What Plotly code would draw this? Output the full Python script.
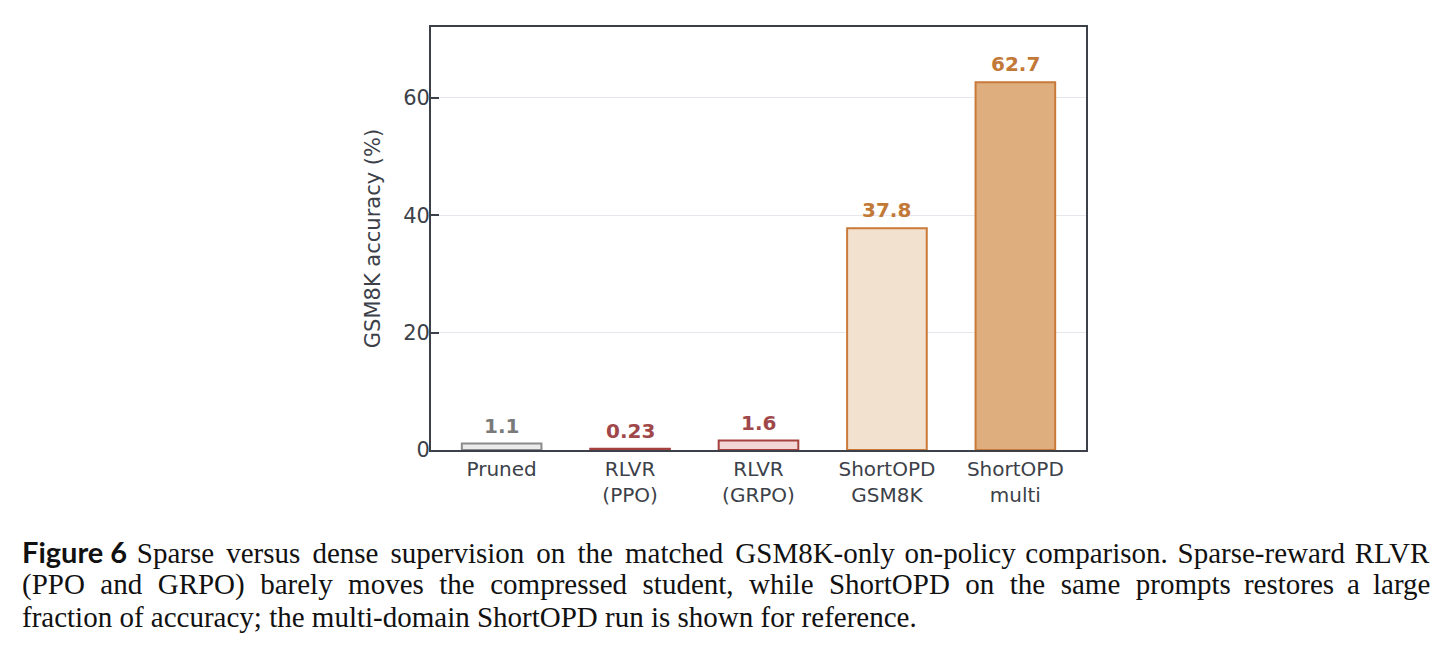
import plotly.graph_objects as go

categories = ["Pruned", "RLVR<br>(PPO)", "RLVR<br>(GRPO)", "ShortOPD<br>GSM8K", "ShortOPD<br>multi"]
values = [1.1, 0.23, 1.6, 37.8, 62.7]
value_labels = ["1.1", "0.23", "1.6", "37.8", "62.7"]
fill_colors = ["#ebebeb", "#f0d3d3", "#f2d6d6", "#f2e1cf", "#dfae7e"]
line_colors = ["#8c8c8c", "#a5423f", "#a5423f", "#c97a3a", "#c97a3a"]
label_colors = ["#7a7a7a", "#a0474a", "#a0474a", "#c27836", "#c27836"]
y_ticks = [0, 20, 40, 60]
y_title = "GSM8K accuracy (%)"
caption_words = [
    "Sparse versus dense supervision on the matched GSM8K-only on-policy comparison. Sparse-reward RLVR".split(" "),
    "(PPO and GRPO) barely moves the compressed student, while ShortOPD on the same prompts restores a large".split(" "),
    "fraction of accuracy; the multi-domain ShortOPD run is shown for reference.".split(" "),
]


def join_words(words, wide, narrow, n_wide):
    out = words[0]
    for k, w in enumerate(words[1:]):
        out += (wide if k < n_wide else narrow) + w
    return out


caption_lines = [
    join_words(caption_words[0], " &#8202;&#8202;", " &#8202;", 7),
    join_words(caption_words[1], " &#8201;&#8202;", " &#8201;", 13),
    " ".join(caption_words[2]),
]
caption_lines[0] = "<span style=\"font-family:Lato;font-weight:bold\">Figure 6</span>&#8196;" + caption_lines[0]

W, H = 1445, 647
ml, mr, mt, mb = 431, 359, 27, 197
pw = W - ml - mr
ph = H - mt - mb

fig = go.Figure()
fig.add_trace(go.Bar(
    x=list(range(len(categories))),
    y=values,
    width=0.62,
    marker=dict(color=fill_colors, line=dict(color=line_colors, width=2)),
    showlegend=False,
    hoverinfo="skip",
))

for i, (v, t, c) in enumerate(zip(values, value_labels, label_colors)):
    fig.add_annotation(
        x=i, y=v, text=f"<b>{t}</b>", showarrow=False, xref="x", yref="y",
        yanchor="bottom", yshift=4,
        font=dict(family="DejaVu Sans", size=20, color=c),
    )

caption_y = [551, 584, 617]
for line, yc in zip(caption_lines, caption_y):
    fig.add_annotation(
        x=(20 - ml) / pw, y=1 - (yc - mt) / ph, xref="paper", yref="paper",
        xanchor="left", yanchor="middle", text=line, showarrow=False,
        font=dict(family="Liberation Serif", size=29, color="#111111"),
    )

axis_color = "#3c4149"
fig.update_layout(
    width=W, height=H,
    margin=dict(l=ml, r=mr, t=mt, b=mb, pad=0),
    paper_bgcolor="white", plot_bgcolor="white",
    font=dict(family="DejaVu Sans", size=20, color=axis_color),
    xaxis=dict(
        tickmode="array", tickvals=list(range(len(categories))), ticktext=categories,
        range=[-0.55, len(categories) - 0.45],
        showline=True, mirror=True, linecolor=axis_color, linewidth=1.8,
        ticks="", showgrid=False, zeroline=False,
        tickfont=dict(size=20, color=axis_color),
    ),
    yaxis=dict(
        range=[0, 72.1], tickmode="array", tickvals=y_ticks,
        showline=True, mirror=True, linecolor=axis_color, linewidth=1.8,
        ticks="inside", ticklen=8, tickwidth=1.8, tickcolor=axis_color,
        ticklabelstandoff=-5,
        showgrid=True, gridcolor="#e6e6ec", gridwidth=1, zeroline=False,
        tickfont=dict(size=21, color=axis_color),
        title=dict(text=y_title, font=dict(size=21, color=axis_color), standoff=17),
    ),
)

fig.write_html("out.html")
